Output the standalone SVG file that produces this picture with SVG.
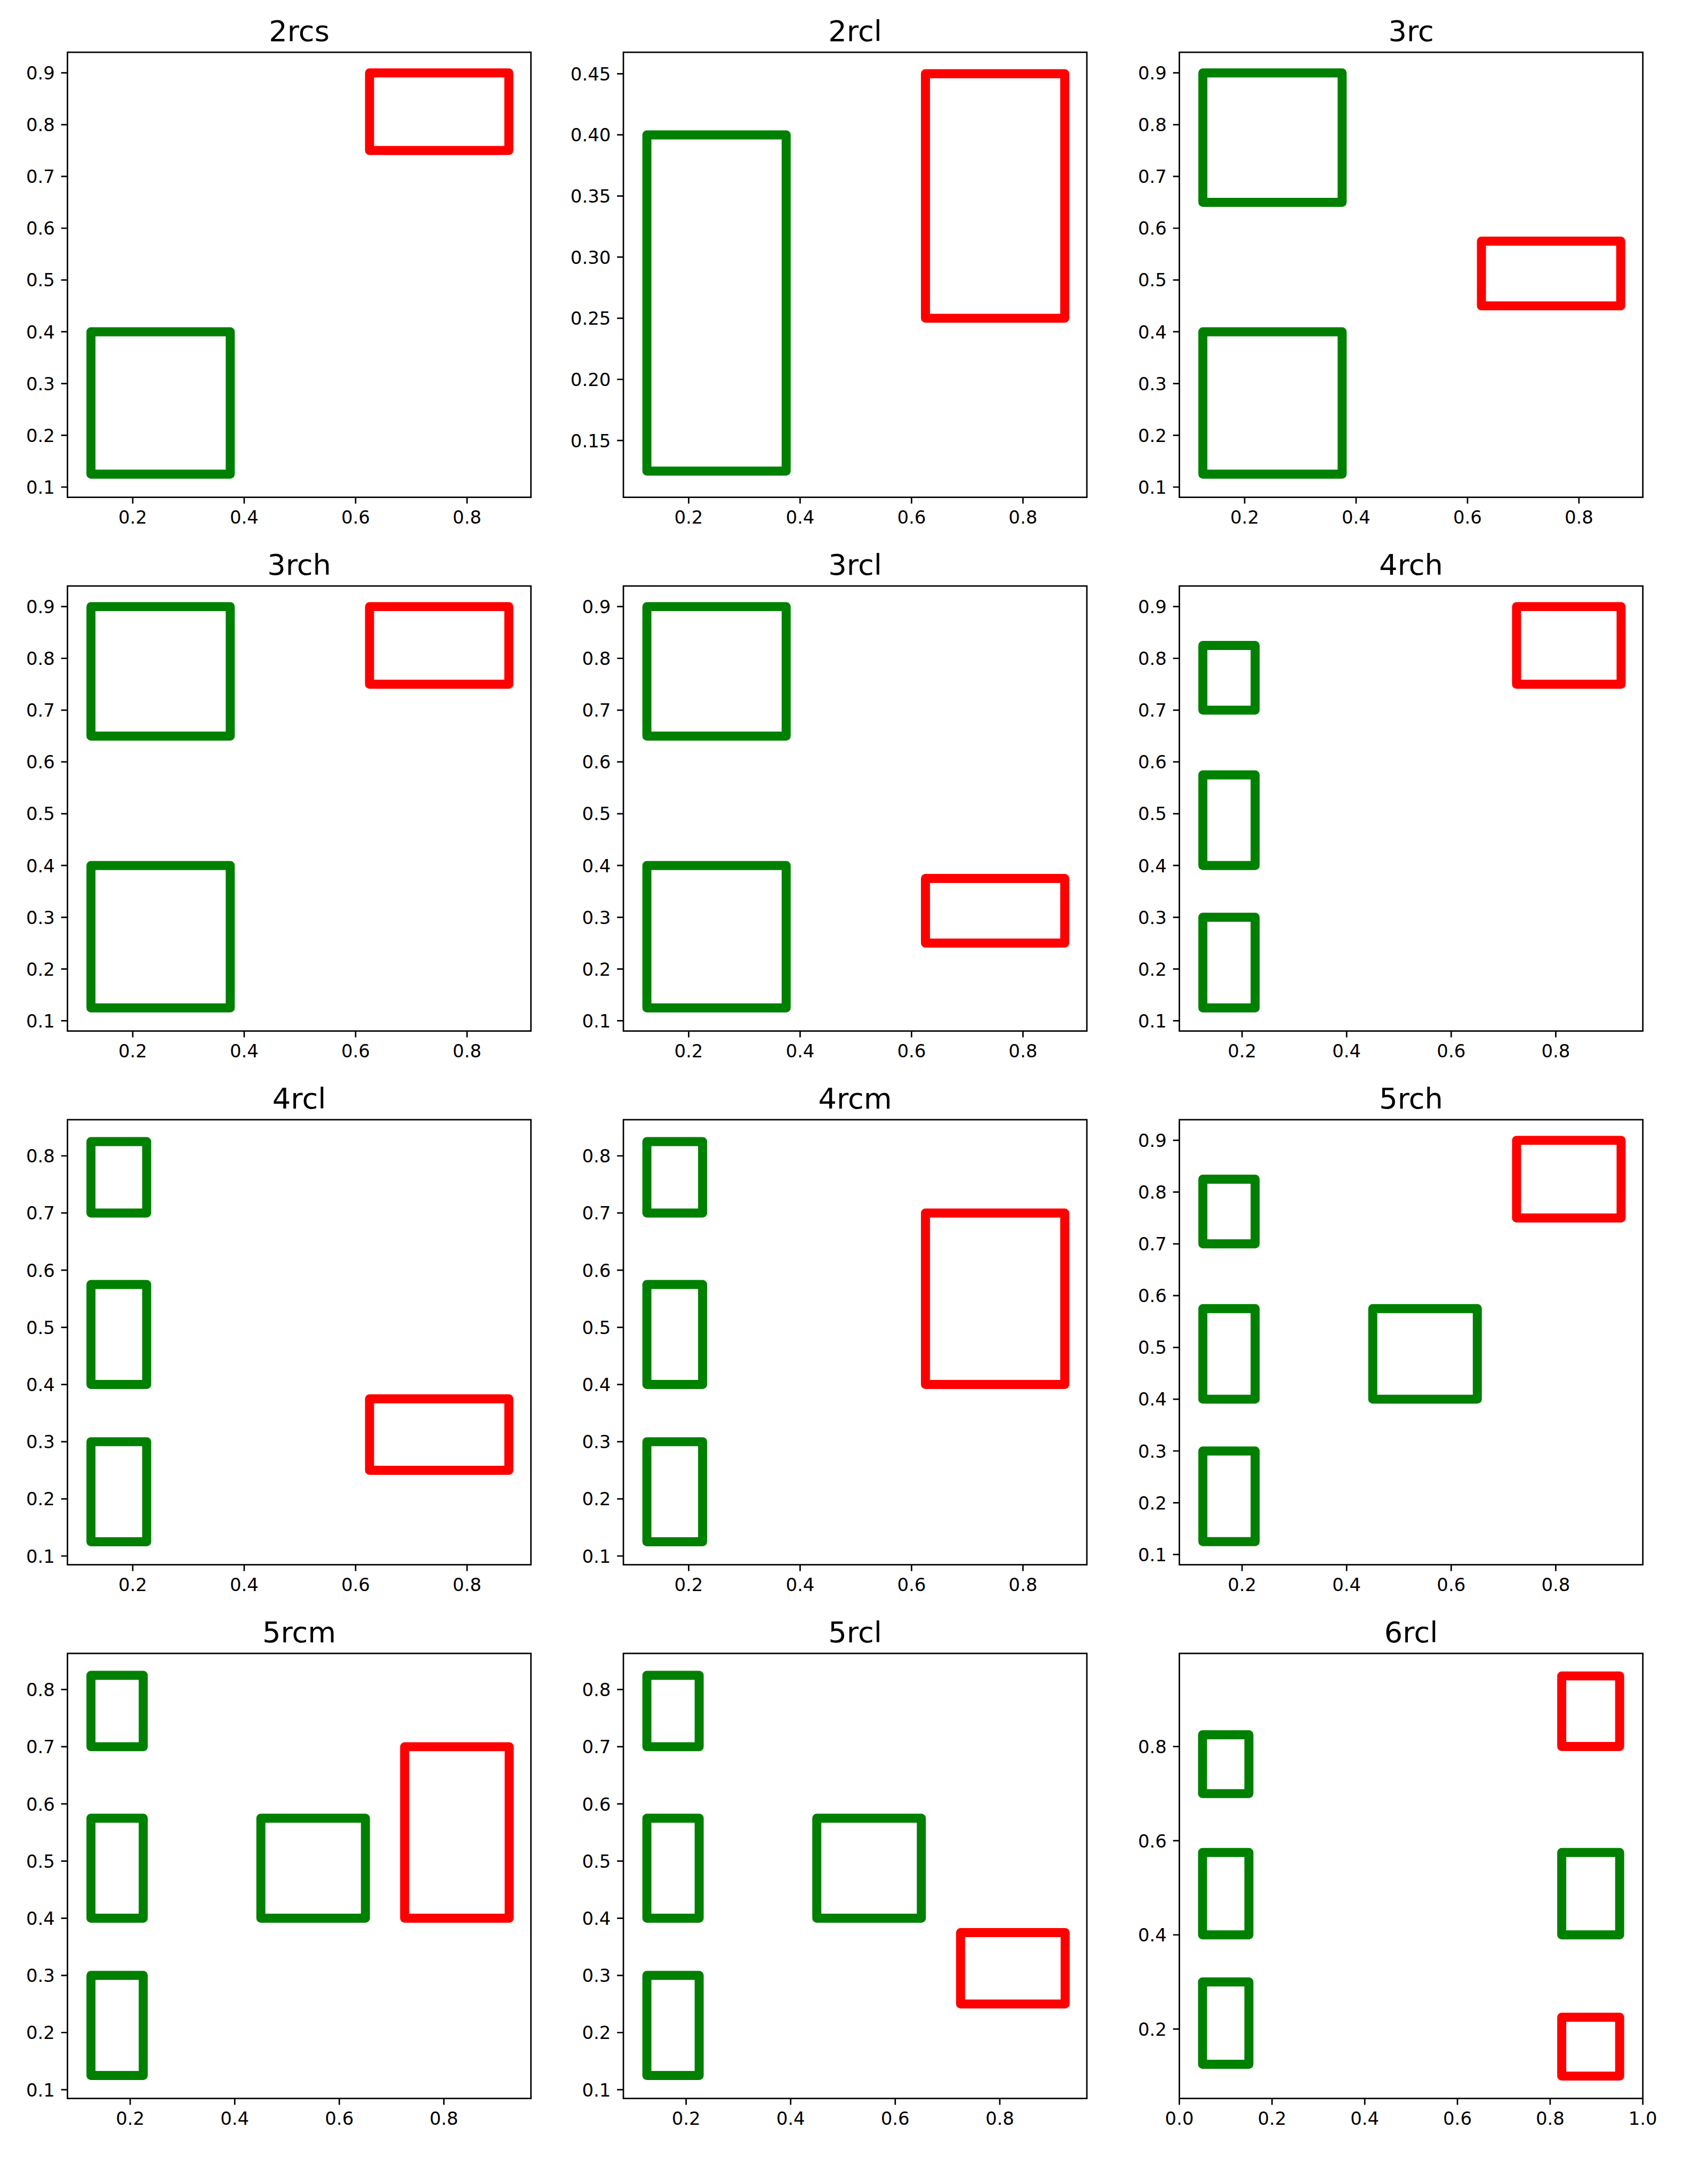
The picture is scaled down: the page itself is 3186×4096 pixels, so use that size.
<svg xmlns="http://www.w3.org/2000/svg" width="3186" height="4096" viewBox="0 0 3186 4096">
<style>
.sp{fill:none;stroke:#000;stroke-width:3.2;stroke-linejoin:miter}
.tk{fill:none;stroke:#000;stroke-width:3.2}
.g{fill:none;stroke:#008000;stroke-width:20;stroke-linejoin:round}
.r{fill:none;stroke:#ff0000;stroke-width:20;stroke-linejoin:round}
text{font-family:"DejaVu Sans","Liberation Sans",sans-serif;fill:#000}
.yl{font-size:40px;text-anchor:end}
.xl{font-size:40px;text-anchor:middle}
.tt{font-size:64px;text-anchor:middle}
</style>
<defs>
<g id="yA">
<path class="tk" d="M-14 45.6H0M-14 160.2H0M-14 274.8H0M-14 389.4H0M-14 504H0M-14 618.6H0M-14 733.2H0M-14 847.8H0M-14 962.4H0"/>
<text class="yl" x="-28" y="60.2">0.9</text>
<text class="yl" x="-28" y="174.8">0.8</text>
<text class="yl" x="-28" y="289.4">0.7</text>
<text class="yl" x="-28" y="404">0.6</text>
<text class="yl" x="-28" y="518.6">0.5</text>
<text class="yl" x="-28" y="633.2">0.4</text>
<text class="yl" x="-28" y="747.8">0.3</text>
<text class="yl" x="-28" y="862.4">0.2</text>
<text class="yl" x="-28" y="977">0.1</text>
</g>
<g id="yB">
<path class="tk" d="M-14 47.5H0M-14 182.8H0M-14 318.1H0M-14 453.4H0M-14 588.7H0M-14 724H0M-14 859.3H0"/>
<text class="yl" x="-28" y="62.1">0.45</text>
<text class="yl" x="-28" y="197.4">0.40</text>
<text class="yl" x="-28" y="332.7">0.35</text>
<text class="yl" x="-28" y="468">0.30</text>
<text class="yl" x="-28" y="603.3">0.25</text>
<text class="yl" x="-28" y="738.6">0.20</text>
<text class="yl" x="-28" y="873.9">0.15</text>
</g>
<g id="yC">
<path class="tk" d="M-14 80H0M-14 206.5H0M-14 333.1H0M-14 459.6H0M-14 586.1H0M-14 712.7H0M-14 839.2H0M-14 965.7H0"/>
<text class="yl" x="-28" y="94.6">0.8</text>
<text class="yl" x="-28" y="221.1">0.7</text>
<text class="yl" x="-28" y="347.7">0.6</text>
<text class="yl" x="-28" y="474.2">0.5</text>
<text class="yl" x="-28" y="600.7">0.4</text>
<text class="yl" x="-28" y="727.3">0.3</text>
<text class="yl" x="-28" y="853.8">0.2</text>
<text class="yl" x="-28" y="980.3">0.1</text>
</g>
<g id="yD">
<path class="tk" d="M-14 206.1H0M-14 414.5H0M-14 622.9H0M-14 831.3H0"/>
<text class="yl" x="-28" y="220.7">0.8</text>
<text class="yl" x="-28" y="429.1">0.6</text>
<text class="yl" x="-28" y="637.5">0.4</text>
<text class="yl" x="-28" y="845.9">0.2</text>
</g>
<g id="x3">
<path class="tk" d="M144.5 985V999M391.1 985V999M637.7 985V999M884.3 985V999"/>
<text class="xl" x="144.5" y="1043.5">0.2</text>
<text class="xl" x="391.1" y="1043.5">0.4</text>
<text class="xl" x="637.7" y="1043.5">0.6</text>
<text class="xl" x="884.3" y="1043.5">0.8</text>
</g>
<g id="x4">
<path class="tk" d="M138.8 985V999M370.2 985V999M601.6 985V999M833 985V999"/>
<text class="xl" x="138.8" y="1043.5">0.2</text>
<text class="xl" x="370.2" y="1043.5">0.4</text>
<text class="xl" x="601.6" y="1043.5">0.6</text>
<text class="xl" x="833" y="1043.5">0.8</text>
</g>
<g id="x12">
<path class="tk" d="M0 985V999M205.1 985V999M410.3 985V999M615.4 985V999M820.6 985V999M1025.7 985V999"/>
<text class="xl" x="0" y="1043.5">0.0</text>
<text class="xl" x="205.1" y="1043.5">0.2</text>
<text class="xl" x="410.3" y="1043.5">0.4</text>
<text class="xl" x="615.4" y="1043.5">0.6</text>
<text class="xl" x="820.6" y="1043.5">0.8</text>
<text class="xl" x="1025.7" y="1043.5">1.0</text>
</g>
<rect id="frame" class="sp" x="0" y="0" width="1025.7" height="985"/>
</defs>
<rect x="0" y="0" width="3186" height="4096" fill="#fff"/>
<g transform="scale(0.84734)">

<g id="ax-2rcs" transform="translate(149.3,115.7)">
<rect class="g" x="52" y="618.6" width="308.25" height="315.15"/>
<rect class="r" x="668.5" y="45.6" width="308.25" height="171.9"/>
<use href="#frame"/><use href="#yA"/><use href="#x3"/>
<text class="tt" x="512.85" y="-25">2rcs</text>
</g>

<g id="ax-2rcl" transform="translate(1379.6,115.7)">
<rect class="g" x="52" y="182.8" width="308.25" height="744.2"/>
<rect class="r" x="668.5" y="47.5" width="308.25" height="541.2"/>
<use href="#frame"/><use href="#yB"/><use href="#x3"/>
<text class="tt" x="512.85" y="-25">2rcl</text>
</g>

<g id="ax-3rc" transform="translate(2610,115.7)">
<rect class="g" x="52" y="45.6" width="308.25" height="286.5"/>
<rect class="g" x="52" y="618.6" width="308.25" height="315.15"/>
<rect class="r" x="668.5" y="418.05" width="308.25" height="143.25"/>
<use href="#frame"/><use href="#yA"/><use href="#x3"/>
<text class="tt" x="512.85" y="-25">3rc</text>
</g>

<g id="ax-3rch" transform="translate(149.3,1297)">
<rect class="g" x="52" y="45.6" width="308.25" height="286.5"/>
<rect class="g" x="52" y="618.6" width="308.25" height="315.15"/>
<rect class="r" x="668.5" y="45.6" width="308.25" height="171.9"/>
<use href="#frame"/><use href="#yA"/><use href="#x3"/>
<text class="tt" x="512.85" y="-25">3rch</text>
</g>

<g id="ax-3rcl" transform="translate(1379.6,1297)">
<rect class="g" x="52" y="45.6" width="308.25" height="286.5"/>
<rect class="g" x="52" y="618.6" width="308.25" height="315.15"/>
<rect class="r" x="668.5" y="647.25" width="308.25" height="143.25"/>
<use href="#frame"/><use href="#yA"/><use href="#x3"/>
<text class="tt" x="512.85" y="-25">3rcl</text>
</g>

<g id="ax-4rch" transform="translate(2610,1297)">
<rect class="g" x="52" y="131.55" width="115.7" height="143.25"/>
<rect class="g" x="52" y="418.05" width="115.7" height="200.55"/>
<rect class="g" x="52" y="733.2" width="115.7" height="200.55"/>
<rect class="r" x="746.2" y="45.6" width="231.4" height="171.9"/>
<use href="#frame"/><use href="#yA"/><use href="#x4"/>
<text class="tt" x="512.85" y="-25">4rch</text>
</g>

<g id="ax-4rcl" transform="translate(149.3,2478.3)">
<rect class="g" x="52" y="48.4" width="123.3" height="158.1"/>
<rect class="g" x="52" y="364.7" width="123.3" height="221.4"/>
<rect class="g" x="52" y="712.7" width="123.3" height="221.4"/>
<rect class="r" x="668.5" y="617.8" width="308.25" height="158.1"/>
<use href="#frame"/><use href="#yC"/><use href="#x3"/>
<text class="tt" x="512.85" y="-25">4rcl</text>
</g>

<g id="ax-4rcm" transform="translate(1379.6,2478.3)">
<rect class="g" x="52" y="48.4" width="123.3" height="158.1"/>
<rect class="g" x="52" y="364.7" width="123.3" height="221.4"/>
<rect class="g" x="52" y="712.7" width="123.3" height="221.4"/>
<rect class="r" x="668.5" y="206.5" width="308.25" height="379.6"/>
<use href="#frame"/><use href="#yC"/><use href="#x3"/>
<text class="tt" x="512.85" y="-25">4rcm</text>
</g>

<g id="ax-5rch" transform="translate(2610,2478.3)">
<rect class="g" x="52" y="131.55" width="115.7" height="143.25"/>
<rect class="g" x="52" y="418.05" width="115.7" height="200.55"/>
<rect class="g" x="52" y="733.2" width="115.7" height="200.55"/>
<rect class="g" x="428" y="418.05" width="231.4" height="200.55"/>
<rect class="r" x="746.2" y="45.6" width="231.4" height="171.9"/>
<use href="#frame"/><use href="#yA"/><use href="#x4"/>
<text class="tt" x="512.85" y="-25">5rch</text>
</g>

<g id="ax-5rcm" transform="translate(149.3,3659.6)">
<rect class="g" x="52" y="48.4" width="115.7" height="158.1"/>
<rect class="g" x="52" y="364.7" width="115.7" height="221.4"/>
<rect class="g" x="52" y="712.7" width="115.7" height="221.4"/>
<rect class="g" x="428" y="364.7" width="231.4" height="221.4"/>
<rect class="r" x="746.2" y="206.5" width="231.4" height="379.6"/>
<use href="#frame"/><use href="#yC"/><use href="#x4"/>
<text class="tt" x="512.85" y="-25">5rcm</text>
</g>

<g id="ax-5rcl" transform="translate(1379.6,3659.6)">
<rect class="g" x="52" y="48.4" width="115.7" height="158.1"/>
<rect class="g" x="52" y="364.7" width="115.7" height="221.4"/>
<rect class="g" x="52" y="712.7" width="115.7" height="221.4"/>
<rect class="g" x="428" y="364.7" width="231.4" height="221.4"/>
<rect class="r" x="746.2" y="617.8" width="231.4" height="158.1"/>
<use href="#frame"/><use href="#yC"/><use href="#x4"/>
<text class="tt" x="512.85" y="-25">5rcl</text>
</g>

<g id="ax-6rcl" transform="translate(2610,3659.6)">
<rect class="g" x="51.3" y="180.05" width="102.6" height="130.25"/>
<rect class="g" x="51.3" y="440.55" width="102.6" height="182.35"/>
<rect class="g" x="51.3" y="727.1" width="102.6" height="182.35"/>
<rect class="r" x="846.2" y="49.8" width="128.2" height="156.3"/>
<rect class="g" x="846.2" y="440.55" width="128.2" height="182.35"/>
<rect class="r" x="846.2" y="805.25" width="128.2" height="130.25"/>
<use href="#frame"/><use href="#yD"/><use href="#x12"/>
<text class="tt" x="512.85" y="-25">6rcl</text>
</g>

</g>
</svg>
